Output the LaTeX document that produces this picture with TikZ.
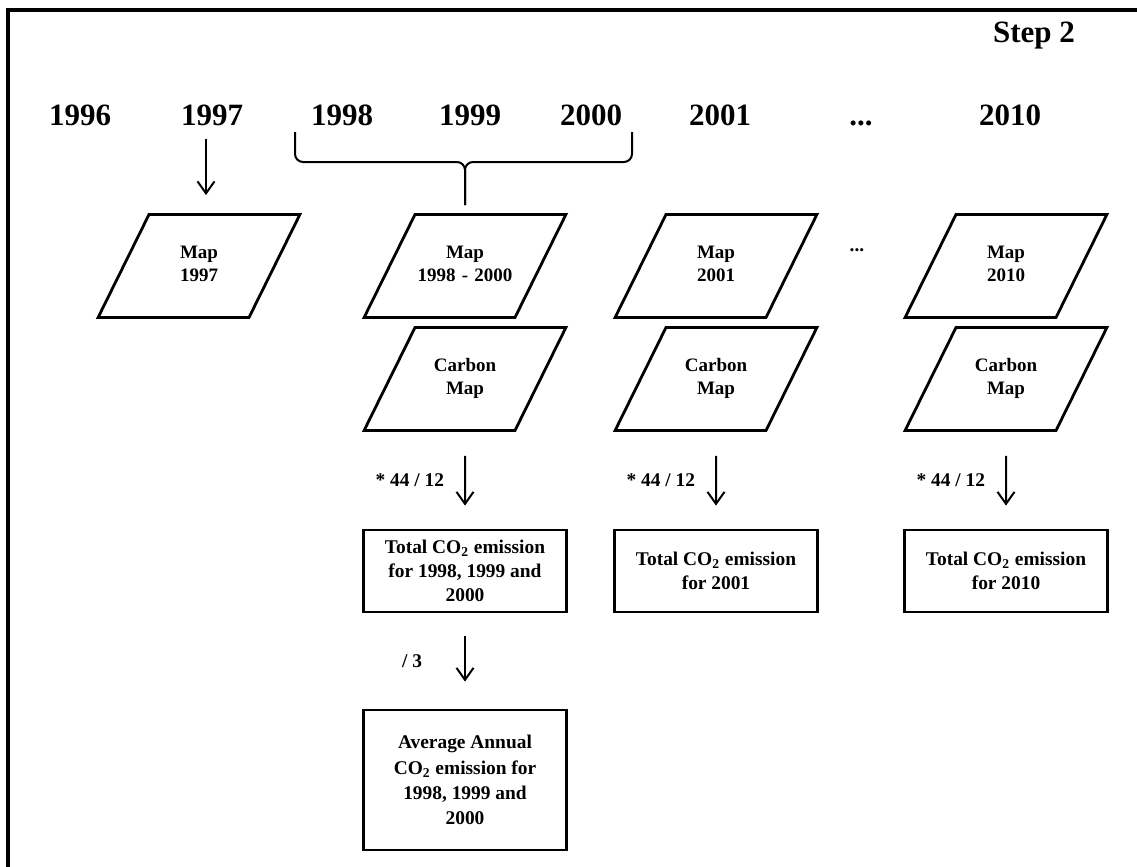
\documentclass[tikz,border=0pt]{standalone}
\usepackage{fontspec}
\setmainfont{Liberation Serif}
\usetikzlibrary{shapes.geometric, arrows.meta}

\begin{document}
\begin{tikzpicture}[x=0.5pt, y=-0.5pt, >={Straight Barb[length=6pt,width=8.5pt]}, line width=1pt, node distance=65pt,
    year node/.style={font=\fontsize{15.5}{18}\selectfont\bfseries, inner sep=0pt, text height=0.68em, text depth=0pt},
    map node/.style={trapezium, trapezium left angle=63.7, trapezium right angle=116.3, trapezium stretches=true, draw, line width=1.4pt, inner sep=0pt, text width=50pt, text height=21.8pt, text depth=29.7pt, align=center, font=\fontsize{9.5}{11.75}\selectfont\bfseries},
    box node/.style={rectangle, draw, line width=1.4pt, minimum width=101.5pt, inner sep=0pt, align=center, font=\fontsize{9.7}{11.9}\selectfont\bfseries},
    step label/.style={font=\fontsize{9.7}{11.75}\selectfont\bfseries, inner sep=0pt}]
                \useasboundingbox (0,0) rectangle (1137,867);
                \draw[line width=2pt] (1137,10) -- (8,10) -- (8,867);

                \node[year node] (step) at (1034,35.5) {Step 2};

                \node[year node] (y1996) at (80,119) {1996};
                \node[year node] (y1997) [right of = y1996, xshift = 1pt] {1997};
                \node[year node] (y1998) [right of = y1997] {1998};
                \node[year node] (y1999) [right of = y1998, xshift = -1pt] {1999};
                \node[year node] (y2000) [right of = y1999, xshift = -4.5pt] {2000};
                \node[year node] (y2001) [right of = y2000, xshift = -0.5pt] {2001};
                \node[year node] (ydots) [right of = y2001, xshift = 5.5pt] {...};
                \node[year node] (y2010) [right of = ydots, xshift = 9.5pt] {2010};

                \node[map node] (m1997) at (199,266) {Map\\1997};
                \node[map node] (m1998) at (465,266) {Map\\1998 - 2000};
                \node[map node] (m2001) at (716,266) {Map\\2001};
                \node[map node] (m2010) at (1006,266) {Map\\2010};
                \node[step label] (mdots) at (857,250) {...};

                \node[map node] (c1998) [below of = m1998, node distance = 56.5pt] {Carbon\\Map};
                \node[map node] (c2001) [below of = m2001, node distance = 56.5pt] {Carbon\\Map};
                \node[map node] (c2010) [below of = m2010, node distance = 56.5pt] {Carbon\\Map};

                \node[box node, minimum height=41pt] (t1998) [below of = c1998, node distance = 96pt] {Total CO\textsubscript{2} emission\\for 1998, 1999 and\\2000};
                \node[box node, minimum height=41pt] (t2001) [below of = c2001, node distance = 96pt] {Total CO\textsubscript{2} emission\\for 2001};
                \node[box node, minimum height=41pt] (t2010) [below of = c2010, node distance = 96pt] {Total CO\textsubscript{2} emission\\for 2010};

                \node[box node, minimum height=70pt, font=\fontsize{9.7}{12.6}\selectfont\bfseries] (a1998) [below of = t1998, node distance = 104.5pt] {Average Annual\\CO\textsubscript{2} emission for\\1998, 1999 and\\2000};

                % brace over 1998 - 2000
                \coordinate (bl) at (295,132);
                \coordinate (br) at (632,132);
                \coordinate (bm) at (465,162);
                \draw[rounded corners=4pt, shorten >=4pt] (bl) |- (bm) -- (bm |- m1998.north);
                \draw[rounded corners=4pt, shorten >=4pt] (br) |- (bm) -- (bm |- m1998.north);

                \path[->, every node/.style={step label}]
                    ([xshift=-3pt]y1997.south) edge[shorten <=6pt, shorten >=9pt] ([xshift=-3pt]y1997.south |- m1997.north)

                    (c1998.south) edge[shorten <=12pt, shorten >=11.5pt] node[left=10pt] {* 44 / 12} (t1998.north)
                    (c2001.south) edge[shorten <=12pt, shorten >=11.5pt] node[left=10pt] {* 44 / 12} (t2001.north)
                    (c2010.south) edge[shorten <=12pt, shorten >=11.5pt] node[left=10pt] {* 44 / 12} (t2010.north)

                    (t1998.south) edge[shorten <=11.5pt, shorten >=13.5pt] node[left=21pt] {/ 3} (a1998.north)
                ;
            \end{tikzpicture}
\end{document}
